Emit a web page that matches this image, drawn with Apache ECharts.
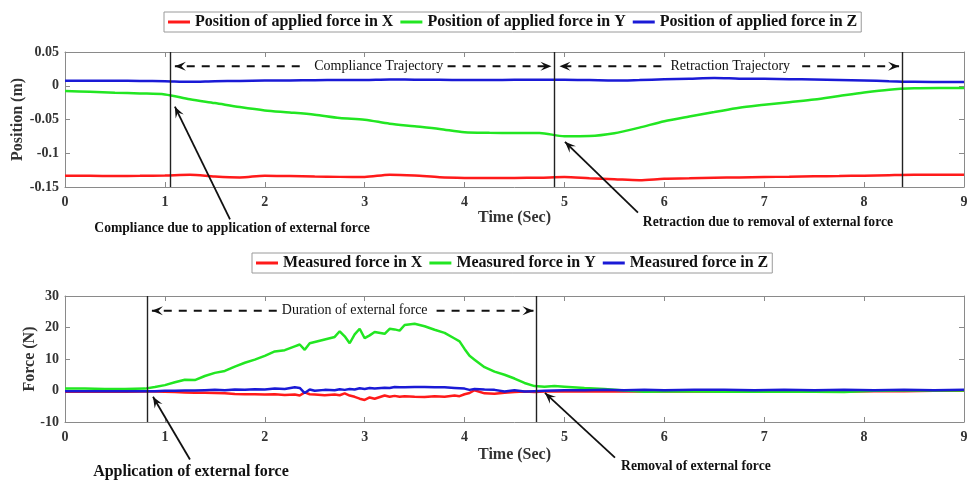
<!DOCTYPE html>
<html>
<head>
<meta charset="utf-8">
<script src="https://cdn.jsdelivr.net/npm/echarts@6/dist/echarts.min.js"></script>
<style>
html, body { margin: 0; padding: 0; background: #fff; }
#main { width: 967px; height: 480px; }
</style>
</head>
<body>
<div id="main"></div>
<script>
// position of applied force (m), top plot
var posTime = [0, 0.25, 0.5, 0.75, 1, 1.25, 1.5, 1.75, 2, 2.25, 2.5, 2.75, 3, 3.25, 3.5, 3.75, 4, 4.25, 4.5,
    4.75, 5, 5.25, 5.5, 5.75, 6, 6.25, 6.5, 6.75, 7, 7.25, 7.5, 7.75, 8, 8.25, 8.5, 8.75, 9];
var posX = [-0.1333, -0.1335, -0.1337, -0.1335, -0.1330, -0.1320, -0.1345, -0.1358, -0.1332, -0.1338,
    -0.1345, -0.1350, -0.1352, -0.1318, -0.1330, -0.1355, -0.1365, -0.1367, -0.1365, -0.1362,
    -0.1352, -0.1370, -0.1385, -0.1400, -0.1378, -0.1372, -0.1362, -0.1358, -0.1352, -0.1348,
    -0.1342, -0.1338, -0.1332, -0.1325, -0.1320, -0.1320, -0.1320];
var posY = [-0.0078, -0.0090, -0.0103, -0.0113, -0.0128, -0.0200, -0.0256, -0.0315, -0.0365, -0.0395,
    -0.0429, -0.0478, -0.0503, -0.0562, -0.0600, -0.0640, -0.0690, -0.0698, -0.0700, -0.0700,
    -0.0748, -0.0745, -0.0705, -0.0620, -0.0525, -0.0455, -0.0390, -0.0325, -0.0283, -0.0243,
    -0.0205, -0.0152, -0.0100, -0.0058, -0.0038, -0.0034, -0.0034];
var posZ = [0.0075, 0.0074, 0.0073, 0.0072, 0.0068, 0.0060, 0.0068, 0.0072, 0.0077, 0.0078,
    0.0082, 0.0085, 0.0086, 0.0094, 0.0090, 0.0088, 0.0086, 0.0085, 0.0088, 0.0090,
    0.0090, 0.0085, 0.0078, 0.0085, 0.0095, 0.0105, 0.0115, 0.0105, 0.0102, 0.0098,
    0.0092, 0.0085, 0.0078, 0.0068, 0.0058, 0.0056, 0.0055];

// measured force (N), bottom plot
var forceTime = [0, 0.2, 0.4, 0.6, 0.8,
    0.9, 1.0, 1.1, 1.2, 1.3, 1.4, 1.5, 1.6, 1.7, 1.8, 1.9, 2.0, 2.1, 2.2, 2.3,
    2.35, 2.4, 2.45, 2.5, 2.6, 2.7,
    2.75, 2.8, 2.85, 2.9, 2.95, 3.0, 3.05, 3.1,
    3.2, 3.25, 3.3, 3.35, 3.4, 3.5, 3.6, 3.7, 3.8, 3.9,
    3.95, 4.0, 4.05, 4.1, 4.2, 4.3, 4.4, 4.5, 4.6, 4.7, 4.8, 4.9, 5.0,
    5.2, 5.4, 5.6, 5.8, 6.0, 6.3, 6.6, 6.9, 7.2, 7.5, 7.8, 8.1, 8.4, 8.7, 9.0];
var forceX = [-0.4, -0.4, -0.4, -0.4, -0.3,
    -0.3, -0.4, -0.5, -0.6, -0.7, -0.7, -0.8, -0.9, -1.1, -1.2, -1.2, -1.3, -1.2, -1.4, -1.3,
    -1.6, -0.6, -1.2, -1.3, -1.5, -1.3,
    -1.5, -0.9, -1.6, -2.0, -2.6, -3.0, -2.2, -2.6,
    -1.6, -2.0, -1.7, -2.0, -1.8, -2.0, -2.1, -1.8, -2.0, -1.6,
    -1.8, -1.2, -0.8, 0.1, -0.9, -1.0, -0.7, -0.5, -0.3, -0.5, -0.3, -0.3, -0.2,
    -0.3, -0.2, -0.3, -0.2, -0.3, -0.2, -0.3, -0.2, -0.3, -0.2, -0.3, -0.2, -0.2, -0.1, -0.1];
var forceY = [0.6, 0.6, 0.5, 0.5, 0.6,
    1.1, 1.7, 2.6, 3.4, 3.3, 4.6, 5.6, 6.2, 7.6, 8.8, 9.8, 11.0, 12.4, 12.8, 14.0,
    14.6, 12.9, 15.0, 15.4, 16.2, 17.0,
    18.8, 17.2, 15.0, 17.8, 19.6, 16.6, 17.5, 18.6,
    18.0, 19.6, 19.4, 19.0, 20.8, 21.2, 20.4, 19.3, 18.3, 16.5,
    15.6, 13.2, 11.0, 9.8, 7.4, 6.0, 5.0, 3.8, 2.4, 1.4, 1.2, 1.4, 1.2,
    0.8, 0.5, 0.0, -0.4, -0.3, -0.3, -0.4, -0.3, -0.4, -0.4, -0.5, -0.1, 0.0, 0.0, 0.0];
var forceZ = [-0.2, -0.2, -0.2, -0.2, -0.2,
    -0.2, -0.1, -0.1, 0.0, 0.0, 0.1, 0.2, 0.1, 0.3, 0.2, 0.4, 0.3, 0.6, 0.5, 1.0,
    0.8, -0.8, 0.3, -0.1, 0.2, 0.1,
    0.4, 0.2, 0.5, 0.3, 0.7, 0.5, 0.8, 0.6,
    0.9, 0.8, 1.1, 1.0, 1.0, 1.1, 1.1, 1.0, 1.0, 0.8,
    0.7, 0.6, 0.2, 0.5, 0.3, 0.2, -0.3, 0.1, -0.3, -0.2, -0.1, 0.0, 0.1,
    0.1, 0.2, 0.1, 0.2, 0.1, 0.2, 0.2, 0.1, 0.2, 0.1, 0.2, 0.1, 0.2, 0.1, 0.2];

var posEvents = [1.05, 4.9, 8.38];   // start / end of compliance, end of retraction
var forceEvents = [0.82, 4.72];      // force applied / removed

var posNames = ['Position of applied force in X', 'Position of applied force in Y', 'Position of applied force in Z'];
var forceNames = ['Measured force in X', 'Measured force in Y', 'Measured force in Z'];
var colors = ['#ff1a1a', '#22e622', '#1a1ad6'];

var serif = '"Liberation Serif", "Times New Roman", serif';
var dom = document.getElementById('main');
var chart = echarts.init(dom);

function pairs(t, v) {
    return t.map(function (x, i) { return [x, v[i]]; });
}

function xAx(grid, mirror) {
    return {
        type: 'value', gridIndex: grid, min: 0, max: 9, interval: 1,
        position: mirror ? 'top' : 'bottom',
        name: mirror ? '' : 'Time (Sec)',
        nameLocation: 'middle', nameGap: grid === 0 ? 23 : 25, nameMoveOverlap: false,
        nameTextStyle: { fontFamily: serif, fontWeight: 'bold', fontSize: 16, color: '#333' },
        axisLine: { show: true, onZero: false, lineStyle: { color: '#8a8a8a', width: 1 } },
        axisTick: { show: true, inside: true, length: 5, lineStyle: { color: '#8a8a8a' } },
        axisLabel: { show: !mirror, margin: 8, fontFamily: serif, fontWeight: 'bold', fontSize: 14, color: '#333' },
        splitLine: { show: false }
    };
}

function yAx(grid, mirror, min, max, step, name, gap) {
    return {
        type: 'value', gridIndex: grid, min: min, max: max, interval: step,
        position: mirror ? 'right' : 'left',
        name: mirror ? '' : name,
        nameLocation: 'middle', nameGap: gap, nameRotate: 90, nameMoveOverlap: false,
        nameTextStyle: { fontFamily: serif, fontWeight: 'bold', fontSize: 16, color: '#333' },
        axisLine: { show: true, onZero: false, lineStyle: { color: '#8a8a8a', width: 1 } },
        axisTick: { show: true, inside: true, length: 5, lineStyle: { color: '#8a8a8a' } },
        axisLabel: { show: !mirror, margin: 6, fontFamily: serif, fontWeight: 'bold', fontSize: 14, color: '#333' },
        splitLine: { show: false }
    };
}

function line(name, xi, yi, data, color, events) {
    var s = {
        name: name, type: 'line', xAxisIndex: xi, yAxisIndex: yi,
        data: data, showSymbol: false, symbol: 'none', smooth: xi === 0 ? 0.3 : false,
        lineStyle: { color: color, width: 2.5 }, itemStyle: { color: color },
        emphasis: { disabled: true }, silent: true, z: 3
    };
    if (events) {
        s.markLine = {
            silent: true, symbol: ['none', 'none'], animation: false,
            label: { show: false },
            lineStyle: { color: '#222', type: 'solid', width: 1.4 },
            data: events.map(function (v) { return { xAxis: v }; })
        };
    }
    return s;
}

function legend(names, left, top) {
    return {
        data: names, left: left, top: top, icon: 'rect', itemWidth: 22, itemHeight: 3, itemGap: 7,
        borderColor: '#9a9a9a', borderWidth: 1, padding: [2, 4, 2, 4],
        textStyle: { fontFamily: serif, fontWeight: 'bold', fontSize: 16, color: '#111' }
    };
}

option = {
    animation: false,
    backgroundColor: '#fff',
    legend: [legend(posNames, 164, 12), legend(forceNames, 252, 253)],
    grid: [
        { left: 65, right: 3, top: 52, height: 135, outerBoundsMode: 'none', containLabel: false },
        { left: 65, right: 3, top: 296, height: 126, outerBoundsMode: 'none', containLabel: false }
    ],
    xAxis: [xAx(0, false), xAx(0, true), xAx(1, false), xAx(1, true)],
    yAxis: [
        yAx(0, false, -0.15, 0.05, 0.05, 'Position (m)', 39),
        yAx(0, true, -0.15, 0.05, 0.05, '', 0),
        yAx(1, false, -10, 30, 10, 'Force (N)', 27),
        yAx(1, true, -10, 30, 10, '', 0)
    ],
    series: [
        line(posNames[0], 0, 0, pairs(posTime, posX), colors[0], posEvents),
        line(posNames[1], 0, 0, pairs(posTime, posY), colors[1]),
        line(posNames[2], 0, 0, pairs(posTime, posZ), colors[2]),
        line(forceNames[0], 2, 2, pairs(forceTime, forceX), colors[0], forceEvents),
        line(forceNames[1], 2, 2, pairs(forceTime, forceY), colors[1]),
        line(forceNames[2], 2, 2, pairs(forceTime, forceZ), colors[2])
    ]
};
chart.setOption(option);

// annotations, in data units of each grid
function px(grid, t, v) {
    return chart.convertToPixel({ xAxisIndex: grid * 2, yAxisIndex: grid * 2 }, [t, v]);
}

function head(tip, from, len, half) {
    var dx = tip[0] - from[0], dy = tip[1] - from[1];
    var d = Math.sqrt(dx * dx + dy * dy);
    var ux = dx / d, uy = dy / d, nx = -uy, ny = ux;
    var bx = tip[0] - ux * len, by = tip[1] - uy * len;
    var mx = tip[0] - ux * len * 0.6, my = tip[1] - uy * len * 0.6;
    return {
        type: 'polygon', silent: true, z: 10,
        shape: { points: [tip, [bx + nx * half, by + ny * half], [mx, my], [bx - nx * half, by - ny * half]] },
        style: { fill: '#111' }
    };
}

function arrow(grid, from, to, dashed) {
    var a = px(grid, from[0], from[1]), b = px(grid, to[0], to[1]);
    return [{
        type: 'line', silent: true, z: 10,
        shape: { x1: a[0], y1: a[1], x2: b[0], y2: b[1] },
        style: { stroke: '#111', lineWidth: dashed ? 2 : 1.8, lineDash: dashed ? [8, 7] : null }
    }, head(b, a, 11, 4.5)];
}

function label(grid, t, v, text, size, bold) {
    var p = px(grid, t, v);
    return {
        type: 'text', silent: true, z: 10, x: p[0], y: p[1],
        style: {
            text: text, fill: '#111', align: 'center', verticalAlign: 'middle',
            font: (bold ? 'bold ' : '') + size + 'px ' + serif
        }
    };
}

var g = [];
// trajectory spans, top
g = g.concat(arrow(0, [2.35, 0.029], [1.1, 0.029], true));
g = g.concat(arrow(0, [3.83, 0.029], [4.87, 0.029], true));
g.push(label(0, 3.14, 0.029, 'Compliance Trajectory', 14, false));
g = g.concat(arrow(0, [5.97, 0.029], [4.95, 0.029], true));
g = g.concat(arrow(0, [7.38, 0.029], [8.35, 0.029], true));
g.push(label(0, 6.66, 0.029, 'Retraction Trajectory', 14, false));
// external force span, bottom
g = g.concat(arrow(1, [2.12, 25.3], [0.87, 25.3], true));
g = g.concat(arrow(1, [3.72, 25.3], [4.69, 25.3], true));
g.push(label(1, 2.9, 25.3, 'Duration of external force', 14, false));
// callouts
g = g.concat(arrow(0, [1.652, -0.198], [1.10, -0.031], false));
g.push(label(0, 1.672, -0.2118, 'Compliance due to application of external force', 13.6, true));
g = g.concat(arrow(0, [5.736, -0.188], [5.005, -0.083], false));
g.push(label(0, 7.037, -0.2029, 'Retraction due to removal of external force', 13.6, true));
g = g.concat(arrow(1, [1.251, -21.9], [0.881, -2.0], false));
g.push(label(1, 1.261, -25.7, 'Application of external force', 16, true));
g = g.concat(arrow(1, [5.506, -21.3], [4.805, -0.76], false));
g.push(label(1, 6.316, -24.1, 'Removal of external force', 13.6, true));

chart.setOption({ graphic: g });
</script>
</body>
</html>
